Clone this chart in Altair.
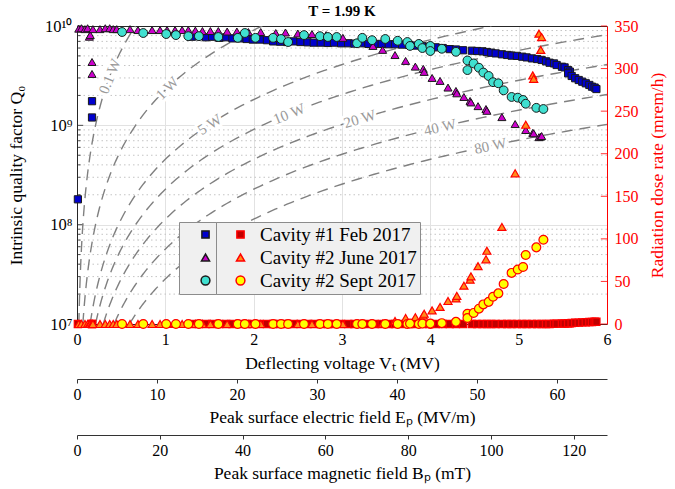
import math
import altair as alt
import pandas as pd

SERIES = ["Cavity #1 Feb 2017", "Cavity #2 June 2017", "Cavity #2 Sept 2017"]

# ---- Cavity #1, Feb 2017 (deflecting voltage MV, Q0, dose rate mrem/h)
FEB_V = [0.01, 0.17, 0.17,
         1.30, 1.38, 1.46, 1.53, 1.61, 1.69, 1.76, 1.84, 1.92, 1.99,
         2.07, 2.15, 2.22, 2.30, 2.38, 2.45, 2.53, 2.61, 2.68, 2.76,
         2.84, 2.91, 2.99, 3.07, 3.14, 3.22, 3.30, 3.37, 3.45, 3.53,
         3.60, 3.68, 3.76, 3.83, 3.91, 3.99, 4.06, 4.14, 4.22, 4.29, 4.37,
         4.47, 4.53, 4.59, 4.64, 4.69, 4.74, 4.81, 4.87, 4.92, 4.98,
         5.04, 5.09, 5.15, 5.21, 5.26, 5.31, 5.35, 5.40, 5.43, 5.49,
         5.52, 5.56, 5.58,
         5.56, 5.60, 5.64, 5.68, 5.72, 5.76, 5.80, 5.83, 5.86, 5.88]
FEB_Q0 = [1.8e8, 1.75e9, 1.2e9,
          7.8e9, 7.9e9, 7.7e9, 7.8e9, 7.6e9, 7.7e9, 7.5e9, 7.5e9, 7.4e9, 7.3e9,
          7.3e9, 7.2e9, 7.0e9, 6.95e9, 6.9e9, 7.0e9, 6.9e9, 6.85e9, 6.8e9, 6.8e9,
          6.75e9, 6.8e9, 6.7e9, 6.7e9, 6.65e9, 6.7e9, 6.6e9, 6.6e9, 6.6e9, 6.55e9,
          6.55e9, 6.5e9, 6.45e9, 6.35e9, 6.25e9, 6.2e9, 6.1e9, 6.0e9, 5.85e9, 5.8e9, 5.7e9,
          5.64e9, 5.6e9, 5.56e9, 5.47e9, 5.39e9, 5.3e9, 5.19e9, 5.11e9, 5.03e9, 5.0e9,
          4.91e9, 4.83e9, 4.72e9, 4.65e9, 4.55e9, 4.41e9, 4.27e9, 4.2e9, 4.05e9, 3.89e9,
          3.83e9, 3.6e9, 3.47e9,
          3.34e9, 3.14e9, 2.98e9, 2.86e9, 2.75e9, 2.65e9, 2.55e9, 2.45e9, 2.4e9, 2.32e9]
FEB_DOSE = [0, 0, 0,
            0, 0, 0, 0, 0, 0, 0, 0, 0, 0,
            0, 0, 0, 0, 0, 0, 0, 0, 0, 0,
            0, 0, 0, 0, 0, 0, 0, 0, 0, 0,
            0, 0, 0, 0, 0, 0, 0, 0, 0, 0, 0,
            0, 0, 0, 0, 0, 0, 0, 0, 0, 0,
            0, 0, 0, 0, 0, 0, 0, 0.3, 0.4, 0.5,
            0.6, 0.8, 0.9,
            1.0, 1.1, 1.5, 1.6, 1.9, 2.0, 2.3, 2.4, 2.6, 2.7]

# ---- Cavity #2, June 2017
JUN_V = [0.02, 0.05, 0.09, 0.12, 0.14, 0.15, 0.17, 0.17, 0.18, 0.26,
         0.32, 0.37, 0.41, 0.45, 0.60, 0.69, 0.85, 0.94, 1.02, 1.11,
         1.19, 1.26, 1.34, 1.42, 1.51, 1.60, 1.70, 1.81, 1.94, 2.08,
         2.25, 2.36, 2.50, 2.66, 2.82, 3.01, 3.35, 3.46, 3.60, 3.72,
         3.83, 3.92, 3.93, 4.02, 4.11, 4.20, 4.29, 4.30, 4.38, 4.45,
         4.46, 4.54, 4.63, 4.64, 4.81, 4.96, 5.08, 5.16, 5.17, 5.23,
         5.25, 5.26]
JUN_Q0 = [9.4e9, 9.5e9, 9.3e9, 9.5e9, 7.8e9, 8.1e9, 4.34e9, 3.29e9, 9.3e9, 9.3e9,
          9.5e9, 9.5e9, 9.3e9, 9.3e9, 9.3e9, 9.1e9, 9.1e9, 9.1e9, 9.1e9, 9.1e9,
          9.1e9, 9.1e9, 9.0e9, 8.9e9, 8.9e9, 8.9e9, 8.8e9, 8.8e9, 8.7e9, 8.7e9,
          8.5e9, 8.6e9, 8.4e9, 8.3e9, 8.1e9, 7.6e9, 6.3e9, 5.75e9, 5.1e9, 4.45e9,
          3.9e9, 3.7e9, 3.45e9, 3.0e9, 2.8e9, 2.4e9, 2.22e9, 2.1e9, 1.93e9, 1.76e9,
          1.7e9, 1.56e9, 1.46e9, 1.4e9, 1.21e9, 1.03e9, 8.97e8, 8.4e8, 8.3e8, 7.6e8,
          7.7e8, 7.8e8]
JUN_DOSE = [0, 0, 0, 0, 0, 0, 0, 0, 0, 0,
            0, 0, 0, 0, 0, 0, 0, 0, 0, 0,
            0, 0, 0, 0, 0, 0, 0, 0, 0, 0,
            0, 0, 0, 0, 0, 0, 0, 0.5, 3.5, 7,
            8, 10, 12, 16, 20, 27, 30, 33, 45, 52,
            56, 68, 76, 86, 114, 177, 234, 292, 288, 341,
            322, 337]

# ---- Cavity #2, Sept 2017
SEP_V = [0.51, 0.75, 1.01, 1.12, 1.26, 1.38, 1.60, 1.82, 1.90, 2.02,
         2.22, 2.31, 2.39, 2.57, 2.75, 2.84, 2.94, 3.17, 3.23, 3.34,
         3.49, 3.63, 3.74, 3.77, 3.87, 3.91, 4.00, 4.00, 4.13, 4.29,
         4.42, 4.42, 4.49, 4.55, 4.60, 4.66, 4.71, 4.77, 4.83, 4.92,
         4.99, 5.05, 5.08, 5.20, 5.28]
SEP_Q0 = [8.7e9, 8.5e9, 8.3e9, 8.1e9, 7.9e9, 7.9e9, 7.75e9, 7.6e9, 8.5e9, 7.6e9,
          7.6e9, 7.4e9, 6.9e9, 8.1e9, 7.9e9, 7.75e9, 7.75e9, 6.7e9, 7.6e9, 7.2e9,
          7.4e9, 7.1e9, 6.9e9, 6.3e9, 6.6e9, 6.0e9, 6.3e9, 5.6e9, 5.9e9, 5.5e9,
          4.5e9, 3.6e9, 4.2e9, 3.8e9, 3.4e9, 3.14e9, 2.72e9, 2.65e9, 2.25e9, 1.93e9,
          1.9e9, 1.8e9, 1.65e9, 1.5e9, 1.46e9]
SEP_DOSE = [0, 0, 0, 0, 0, 0, 0, 0, 0, 0,
            0, 0, 0, 0, 0, 0, 0, 0, 0, 0,
            0, 0, 0, 0.5, 0, 0.5, 0, 0.5, 1, 2.5,
            12, 7, 13, 18, 23, 26, 32, 36, 47, 60,
            64, 67, 81, 90, 99]

# ---- iso-dissipated-power reference curves
POWERS = [0.1, 1, 5, 10, 20, 40, 80]
POWER_LABELS = ["0.1 W", "1 W", "5 W", "10 W", "20 W", "40 W", "80 W"]
R_OVER_Q = 440.0   # ohm

# ---- tick labels / scale relations
V_TICKS = [0, 1, 2, 3, 4, 5, 6]
Q_TICKS = [1e7, 1e8, 1e9, 1e10]
DOSE_TICKS = [0, 50, 100, 150, 200, 250, 300, 350]
E_TICKS = [0, 10, 20, 30, 40, 50, 60]
B_TICKS = [0, 20, 40, 60, 80, 100, 120]
EP_PER_MV = 11.04
BP_PER_MV = 21.34
V_MAX = 6.0

# ---- annotation placement (label position along curve, text angle)
LABEL_AT_V = [0.37, 1.02, 1.50, 2.40, 3.20, 4.11, 4.68]
LABEL_ANGLE = [292, 315, 327, 338, 343, 347, 348]

FONT = "Liberation Serif"
W, H = 530, 298
LAB_FS, TITLE_FS = 16, 17.5

rows = []
for name, vs, qs, ds in [(SERIES[0], FEB_V, FEB_Q0, FEB_DOSE),
                         (SERIES[1], JUN_V, JUN_Q0, JUN_DOSE),
                         (SERIES[2], SEP_V, SEP_Q0, SEP_DOSE)]:
    for v, q, d in zip(vs, qs, ds):
        rows.append({"series": name, "V": v, "Q0": q, "dose": d})
df = pd.DataFrame(rows)

iso_rows = []
for p in POWERS:
    qmax = min(1e10, (V_MAX * 1e6) ** 2 / (R_OVER_Q * p))
    n = 120
    for i in range(n + 1):
        q = 10 ** (7 + (math.log10(qmax) - 7) * i / n)
        iso_rows.append({"P": p, "i": i, "Q0": q,
                         "V": math.sqrt(R_OVER_Q * p * q) / 1e6})
iso_df = pd.DataFrame(iso_rows)

lab_df = pd.DataFrame([{"label": t, "V": v,
                        "Q0": (v * 1e6) ** 2 / (R_OVER_Q * p), "angle": a}
                       for t, p, v, a in zip(POWER_LABELS, POWERS, LABEL_AT_V, LABEL_ANGLE)])

minor_vals = [k * 10 ** e for e in (7, 8, 9) for k in range(2, 10)]
minor_df = pd.DataFrame({"Q0": minor_vals})
major_df = pd.DataFrame({"Q0": Q_TICKS})

xs = alt.Scale(domain=[0, V_MAX], nice=False, zero=False)
ys = alt.Scale(type="log", domain=[1e7, 1e10], nice=False)
ds_scale = alt.Scale(domain=[0, 350], nice=False)

x_axis = alt.Axis(values=V_TICKS, title="Deflecting voltage Vₜ (MV)", grid=True,
                  gridColor="#e2e2e2", ticks=False, domainColor="#262626",
                  labelPadding=7, titlePadding=7, labelFlush=False)
y_axis = alt.Axis(values=Q_TICKS, grid=True, gridColor="#e2e2e2", ticks=False,
                  domainColor="#262626", labelPadding=5, titlePadding=19,
                  labelFontSize=16.5,
                  title="Intrinsic quality factor Q₀",
                  labelExpr="datum.value >= 5e9 ? '10¹⁰' : datum.value >= 5e8 ? '10⁹' : datum.value >= 5e7 ? '10⁸' : '10⁷'")
top_axis = alt.Axis(orient="top", labels=False, ticks=False, grid=False,
                    domainColor="#262626", title=None)
right_axis = alt.Axis(orient="right", values=DOSE_TICKS, title="Radiation dose rate (mrem/h)",
                      titleAngle=270, titleBaseline="top", labelColor="#ff0000",
                      titleColor="#ff0000", domainColor="#ff0000", ticks=False, grid=False,
                      labelPadding=7, titlePadding=10)

minor = alt.Chart(minor_df).mark_rule(color="#c4c4c4", strokeDash=[1.5, 3], strokeWidth=1).encode(
    y=alt.Y("Q0:Q", scale=ys, axis=y_axis))

# inward tick marks on the left (log) axis
minor_ticks = alt.Chart(minor_df).mark_rule(color="#262626", strokeWidth=0.8).encode(
    y=alt.Y("Q0:Q", scale=ys, axis=y_axis),
    x=alt.XDatum(0.0, scale=xs, axis=x_axis), x2=alt.X2Datum(0.04))
major_ticks = alt.Chart(major_df).mark_rule(color="#262626", strokeWidth=0.8).encode(
    y=alt.Y("Q0:Q", scale=ys, axis=y_axis),
    x=alt.XDatum(0.0, scale=xs, axis=x_axis), x2=alt.X2Datum(0.07))

iso = alt.Chart(iso_df).mark_line(color="#808080", strokeDash=[11, 7], strokeWidth=1.4, clip=True).encode(
    x=alt.X("V:Q", scale=xs, axis=x_axis), y=alt.Y("Q0:Q", scale=ys, axis=y_axis),
    detail="P:N", order="i:Q")

halo = alt.Chart(lab_df).mark_text(font=FONT, fontSize=15, fill="white", stroke="white",
                                   strokeWidth=6, strokeJoin="round").encode(
    x=alt.X("V:Q", scale=xs, axis=x_axis), y=alt.Y("Q0:Q", scale=ys, axis=y_axis),
    text="label:N", angle=alt.Angle("angle:Q", scale=None))
labels = alt.Chart(lab_df).mark_text(font=FONT, fontSize=15, color="#9a9a9a").encode(
    x=alt.X("V:Q", scale=xs, axis=x_axis), y=alt.Y("Q0:Q", scale=ys, axis=y_axis),
    text="label:N", angle=alt.Angle("angle:Q", scale=None))

SHAPES = ["square", "triangle-up", "circle"]
SIZES = [52, 78, 80]
Q_FILLS = ["#0000cd", "#cc00cc", "#40e0d0"]
R_FILLS = ["#c00000", "#ff8c1a", "#ffff00"]

q_leg = alt.Legend(title=None, orient="none", legendX=102, legendY=196, labelExpr="' '",
                   padding=3, symbolOffset=14, labelOffset=1, rowPadding=3,
                   fillColor="#f0f0f0", strokeColor="#8c8c8c",
                   labelFontSize=19, labelFont=FONT)
q_pts = alt.Chart(df).mark_point(filled=False, stroke="#1a1a1a", strokeWidth=1, opacity=1,
                                 fillOpacity=1).encode(
    x=alt.X("V:Q", scale=xs, axis=x_axis),
    y=alt.Y("Q0:Q", scale=ys, axis=y_axis),
    fill=alt.Fill("series:N", scale=alt.Scale(domain=SERIES, range=Q_FILLS), legend=q_leg),
    shape=alt.Shape("series:N", scale=alt.Scale(domain=SERIES, range=SHAPES), legend=q_leg),
    size=alt.Size("series:N", scale=alt.Scale(domain=SERIES, range=SIZES), legend=q_leg))

qgroup = alt.layer(minor, minor_ticks, major_ticks, iso, halo, labels, q_pts)

r_leg = alt.Legend(title=None, orient="none", legendX=139, legendY=196,
                   padding=3, symbolOffset=12, labelOffset=10, rowPadding=3,
                   fillColor="#f0f0f0", strokeColor="#8c8c8c",
                   labelFontSize=19, labelFont=FONT, labelColor="black")
r_ticks = alt.Chart(pd.DataFrame({"dose": DOSE_TICKS})).mark_rule(color="#ff0000", strokeWidth=0.8).encode(
    x=alt.XDatum(V_MAX - 0.07, scale=xs, axis=top_axis), x2=alt.X2Datum(V_MAX),
    y=alt.Y("dose:Q", scale=ds_scale, axis=right_axis))
r_pts = alt.Chart(df).mark_point(filled=False, stroke="#ff0000", strokeWidth=1.2, opacity=1,
                                 fillOpacity=1).encode(
    x=alt.X("V:Q", scale=xs, axis=top_axis),
    y=alt.Y("dose:Q", scale=ds_scale, axis=right_axis),
    fill=alt.Fill("series:N", scale=alt.Scale(domain=SERIES, range=R_FILLS), legend=r_leg),
    shape=alt.Shape("series:N", scale=alt.Scale(domain=SERIES, range=SHAPES), legend=r_leg),
    size=alt.Size("series:N", scale=alt.Scale(domain=SERIES, range=SIZES), legend=r_leg))
rgroup = alt.layer(r_ticks, r_pts)

ep = alt.Chart(pd.DataFrame({"E": E_TICKS})).mark_point(opacity=0).encode(
    x=alt.X("E:Q", scale=alt.Scale(domain=[0, V_MAX * EP_PER_MV], nice=False, zero=True),
            axis=alt.Axis(orient="bottom", offset=55, values=E_TICKS,
                          title="Peak surface electric field Eₚ (MV/m)", tickSize=4,
                          tickColor="#333333", domainColor="#333333", labelPadding=3,
                          titlePadding=6, grid=False, labelFlush=False)))
bp = alt.Chart(pd.DataFrame({"B": B_TICKS})).mark_point(opacity=0).encode(
    x=alt.X("B:Q", scale=alt.Scale(domain=[0, V_MAX * BP_PER_MV], nice=False, zero=True),
            axis=alt.Axis(orient="bottom", offset=111, values=B_TICKS,
                          title="Peak surface magnetic field Bₚ (mT)", tickSize=4,
                          tickColor="#333333", domainColor="#333333", labelPadding=3,
                          titlePadding=6, grid=False, labelFlush=False)))

chart = alt.layer(qgroup, rgroup, ep, bp).resolve_scale(
    x="independent", y="independent", fill="independent", shape="independent",
    size="independent"
).properties(
    width=W, height=H,
    title=alt.TitleParams("T = 1.99 K", fontSize=15, fontWeight="bold", font=FONT,
                          offset=-1, anchor="middle", color="black", frame="group"),
    autosize=alt.AutoSizeParams(type="none"),
    padding={"left": 77, "top": 26, "right": 68, "bottom": 165},
).configure(font=FONT).configure_axis(
    labelFont=FONT, titleFont=FONT, labelFontSize=LAB_FS, titleFontSize=TITLE_FS,
    titleFontWeight="normal", labelColor="black", titleColor="black"
).configure_view(stroke=None)

chart.save("out.html", embed_options={"renderer": "svg", "actions": False})
